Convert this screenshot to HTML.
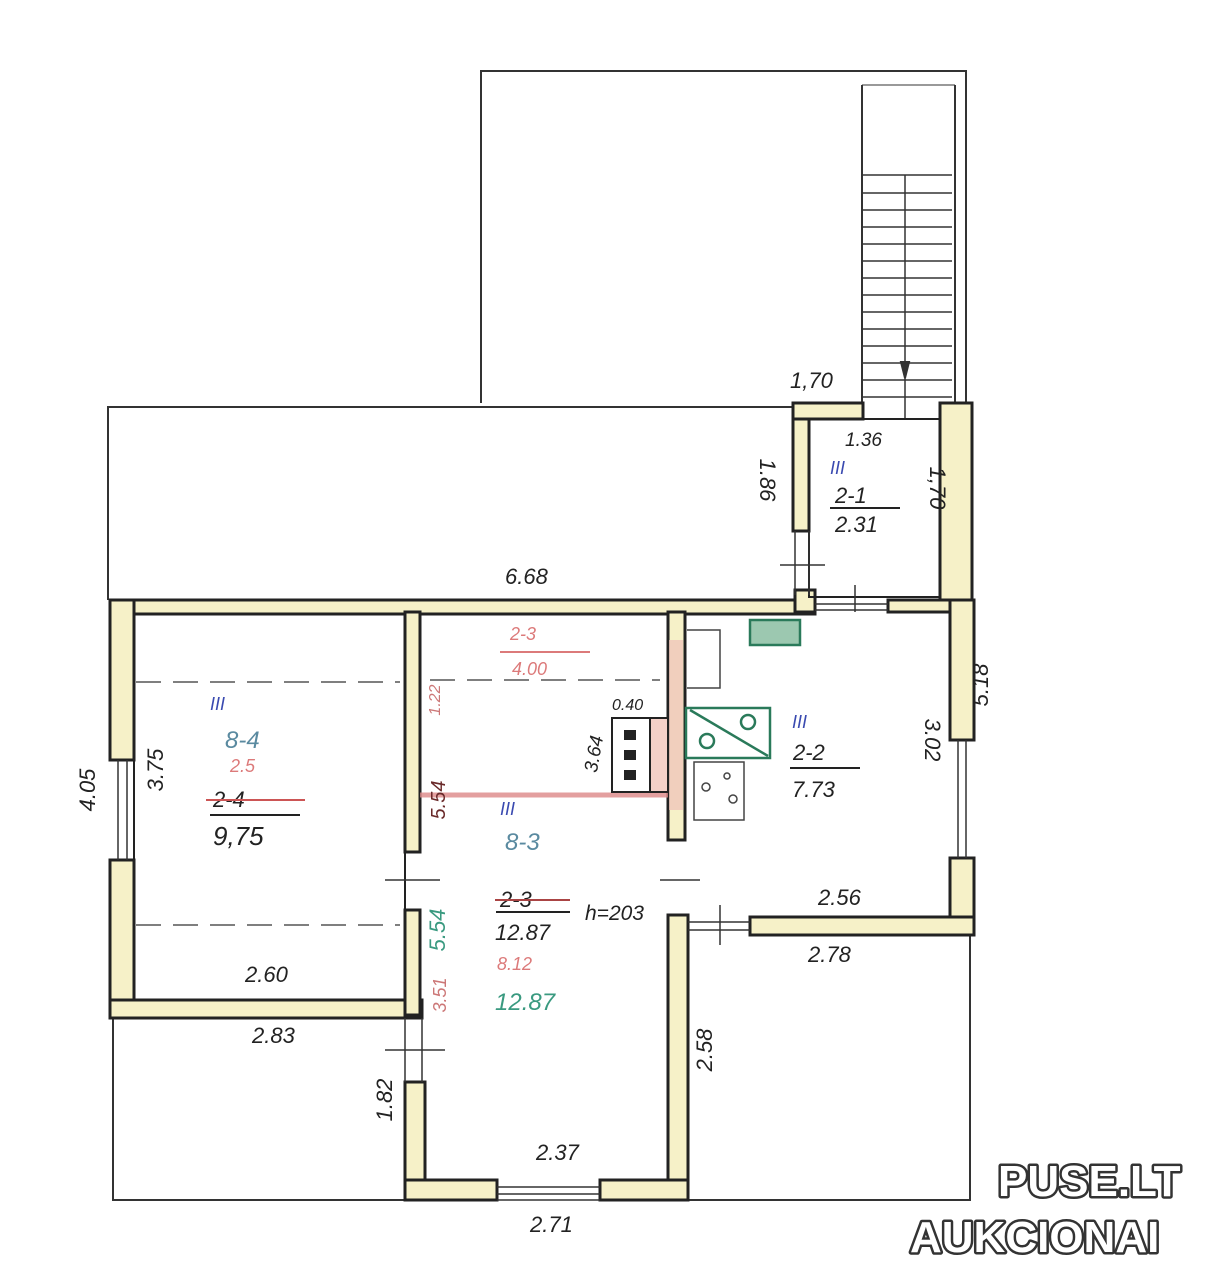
<!DOCTYPE html>
<html><head><meta charset="utf-8"><style>
html,body{margin:0;padding:0;background:#fff;}
svg{display:block}
text{font-family:"Liberation Sans",sans-serif;font-style:italic;}
</style></head><body>
<svg width="1209" height="1280" viewBox="0 0 1209 1280" xmlns="http://www.w3.org/2000/svg">
<rect width="1209" height="1280" fill="#fff"/>
<g fill="none" stroke="#333" stroke-width="2">
<polyline points="481,403 481,71 966,71 966,403"/>
<polyline points="108,600 108,407 795,407"/>
<line x1="862" y1="85" x2="862" y2="403"/>
<line x1="955" y1="85" x2="955" y2="403"/>
<line x1="862" y1="85" x2="955" y2="85" stroke-width="1"/>
<line x1="905" y1="175" x2="905" y2="420" stroke-width="1.5"/>
<polygon points="901,362 909,362 905,378" fill="#333"/>
<polyline points="113,1015 113,1200 405,1200"/>
<polyline points="688,935 688,1200" stroke-width="1"/>
<polyline points="970,935 970,1200 688,1200"/>
</g>
<g stroke="#333" stroke-width="1.5">
<line x1="862" y1="175" x2="952" y2="175"/>
<line x1="862" y1="193" x2="952" y2="193"/>
<line x1="862" y1="210" x2="952" y2="210"/>
<line x1="862" y1="227" x2="952" y2="227"/>
<line x1="862" y1="244" x2="952" y2="244"/>
<line x1="862" y1="261" x2="952" y2="261"/>
<line x1="862" y1="278" x2="952" y2="278"/>
<line x1="862" y1="295" x2="952" y2="295"/>
<line x1="862" y1="312" x2="952" y2="312"/>
<line x1="862" y1="329" x2="952" y2="329"/>
<line x1="862" y1="346" x2="952" y2="346"/>
<line x1="862" y1="363" x2="952" y2="363"/>
<line x1="862" y1="380" x2="952" y2="380"/>
<line x1="862" y1="397" x2="952" y2="397"/>
</g>
<g fill="#f6f1c8" stroke="#222" stroke-width="3">
<rect x="110" y="600" width="705" height="14"/>
<rect x="888" y="600" width="82" height="12"/>
<rect x="110" y="600" width="24" height="160"/>
<rect x="110" y="860" width="24" height="158"/>
<rect x="110" y="1000" width="312" height="18"/>
<rect x="405" y="612" width="15" height="240"/>
<rect x="405" y="910" width="15" height="105"/>
<rect x="668" y="612" width="17" height="228"/>
<rect x="668" y="915" width="20" height="285"/>
<rect x="405" y="1082" width="20" height="118"/>
<rect x="405" y="1180" width="92" height="20"/>
<rect x="600" y="1180" width="88" height="20"/>
<rect x="950" y="600" width="24" height="140"/>
<rect x="950" y="858" width="24" height="77"/>
<rect x="750" y="917" width="224" height="18"/>
<rect x="793" y="403" width="16" height="128"/>
<rect x="793" y="403" width="70" height="16"/>
<rect x="940" y="403" width="32" height="197"/>
<rect x="795" y="590" width="20" height="22"/>
</g>
<g fill="none" stroke="#222" stroke-width="2">
<rect x="134" y="614" width="271" height="386"/>
<rect x="809" y="419" width="131" height="178"/>
</g>
<g stroke="#333" stroke-width="1.5">
<line x1="118" y1="760" x2="118" y2="860"/><line x1="127" y1="760" x2="127" y2="860"/>
<line x1="958" y1="740" x2="958" y2="858"/><line x1="966" y1="740" x2="966" y2="858"/>
<line x1="497" y1="1187" x2="600" y2="1187"/><line x1="497" y1="1194" x2="600" y2="1194"/>
<line x1="497" y1="1200" x2="600" y2="1200"/>
<line x1="385" y1="880" x2="440" y2="880"/>
<line x1="385" y1="1050" x2="445" y2="1050"/>
<line x1="405" y1="1018" x2="405" y2="1082"/><line x1="422" y1="1018" x2="422" y2="1082"/>
<line x1="660" y1="880" x2="700" y2="880"/>
<line x1="688" y1="922" x2="750" y2="922"/><line x1="688" y1="930" x2="750" y2="930"/>
<line x1="720" y1="905" x2="720" y2="945"/>
<line x1="795" y1="531" x2="795" y2="595"/><line x1="809" y1="531" x2="809" y2="595"/>
<line x1="780" y1="565" x2="825" y2="565"/>
<line x1="815" y1="604" x2="888" y2="604"/><line x1="815" y1="610" x2="888" y2="610"/>
<line x1="855" y1="585" x2="855" y2="612"/>
</g>
<g stroke="#555" stroke-width="1.5" stroke-dasharray="25,12">
<line x1="136" y1="682" x2="400" y2="682"/>
<line x1="136" y1="925" x2="400" y2="925"/>
<line x1="430" y1="680" x2="660" y2="680"/>
</g>
<rect x="669" y="640" width="14" height="170" fill="#f0c0b8" opacity="0.7"/>
<line x1="420" y1="795" x2="668" y2="795" stroke="#d88" stroke-width="5" opacity="0.8"/>
<rect x="612" y="718" width="38" height="74" fill="#fff" stroke="#222" stroke-width="2"/>
<rect x="650" y="718" width="18" height="74" fill="#f4d0c8" stroke="#222" stroke-width="2"/>
<rect x="624" y="730" width="12" height="10" fill="#222"/><rect x="624" y="750" width="12" height="10" fill="#222"/><rect x="624" y="770" width="12" height="10" fill="#222"/>
<g fill="none" stroke="#2a7a5a" stroke-width="2.5">
<rect x="750" y="620" width="50" height="25" fill="#9cc8b0"/>
<rect x="686" y="708" width="84" height="50"/>
<line x1="690" y1="710" x2="768" y2="756"/>
<circle cx="748" cy="722" r="7"/><circle cx="707" cy="741" r="7"/>
</g>
<g fill="none" stroke="#444" stroke-width="1.5">
<rect x="694" y="762" width="50" height="58"/>
<circle cx="706" cy="787" r="4"/><circle cx="733" cy="799" r="4"/><circle cx="727" cy="776" r="3"/>
<polyline points="687,630 720,630 720,688 687,688"/>
</g>
<g fill="#222" font-size="22">
<text x="790" y="388">1,70</text>
<text x="845" y="446" font-size="19">1.36</text>
<text x="835" y="532">2.31</text>
<text x="835" y="503">2-1</text>
<line x1="830" y1="508" x2="900" y2="508" stroke="#222" stroke-width="2"/>
<text x="505" y="584">6.68</text>
<text x="213" y="807" fill="#222">2-4</text>
<line x1="206" y1="800" x2="305" y2="800" stroke="#c55" stroke-width="2"/>
<line x1="210" y1="815" x2="300" y2="815" stroke="#222" stroke-width="2"/>
<text x="213" y="845" font-size="26">9,75</text>
<text x="245" y="982">2.60</text>
<text x="252" y="1043">2.83</text>
<text x="536" y="1160">2.37</text>
<text x="530" y="1232">2.71</text>
<text x="818" y="905">2.56</text>
<text x="808" y="962">2.78</text>
<text x="793" y="760">2-2</text>
<line x1="790" y1="768" x2="860" y2="768" stroke="#222" stroke-width="2"/>
<text x="792" y="797">7.73</text>
<text x="500" y="907">2-3</text>
<line x1="495" y1="900" x2="570" y2="900" stroke="#a44" stroke-width="2"/>
<line x1="496" y1="912" x2="570" y2="912" stroke="#222" stroke-width="2"/>
<text x="495" y="940">12.87</text>
<text x="585" y="920" font-size="21">h=203</text>
<text x="612" y="710" font-size="16">0.40</text>
</g>
<g fill="#d45a5a" font-size="18" opacity="0.8">
<text x="510" y="640">2-3</text>
<line x1="500" y1="652" x2="590" y2="652" stroke="#d45a5a" stroke-width="2"/>
<text x="512" y="675">4.00</text>
<text x="497" y="970">8.12</text>
<text x="230" y="772">2.5</text>
</g>
<text x="495" y="1010" fill="#3a9a80" font-size="24" font-style="normal">12.87</text>
<g fill="#5a8aa0" font-size="24">
<text x="225" y="748">8-4</text>
<text x="505" y="850">8-3</text>
</g>
<g fill="#3a4ab0" font-size="18">
<text x="210" y="710">III</text><text x="792" y="728">III</text><text x="830" y="474">III</text><text x="500" y="815">III</text>
</g>
<g fill="#222" font-size="22">
<text transform="translate(95,790) rotate(-90)" text-anchor="middle">4.05</text>
<text transform="translate(163,770) rotate(-90)" text-anchor="middle">3.75</text>
<text transform="translate(760,480) rotate(90)" text-anchor="middle">1.86</text>
<text transform="translate(930,488) rotate(90)" text-anchor="middle">1,70</text>
<text transform="translate(988,685) rotate(-90)" text-anchor="middle">5.18</text>
<text transform="translate(925,740) rotate(90)" text-anchor="middle">3.02</text>
<text transform="translate(712,1050) rotate(-90)" text-anchor="middle">2.58</text>
<text transform="translate(392,1100) rotate(-90)" text-anchor="middle">1.82</text>
<text transform="translate(600,755) rotate(-80)" text-anchor="middle" font-size="19">3.64</text>
</g>
<text transform="translate(445,930) rotate(-90)" text-anchor="middle" fill="#3a9a80" font-size="22">5.54</text>
<text transform="translate(445,800) rotate(-90)" text-anchor="middle" fill="#6a2a2a" font-size="20">5.54</text>
<text transform="translate(440,700) rotate(-90)" text-anchor="middle" fill="#c77" font-size="16">1.22</text>
<text transform="translate(446,995) rotate(-90)" text-anchor="middle" fill="#c77" font-size="18">3.51</text>
<g font-family="Liberation Sans,sans-serif" font-weight="bold" font-size="44" fill="#fff" stroke="#333" stroke-width="5" stroke-linejoin="round" style="paint-order:stroke">
<text x="998" y="1196" style="font-style:normal">PUSE.LT</text>
<text x="910" y="1252" style="font-style:normal">AUKCIONAI</text>
</g>
</svg>
</body></html>
